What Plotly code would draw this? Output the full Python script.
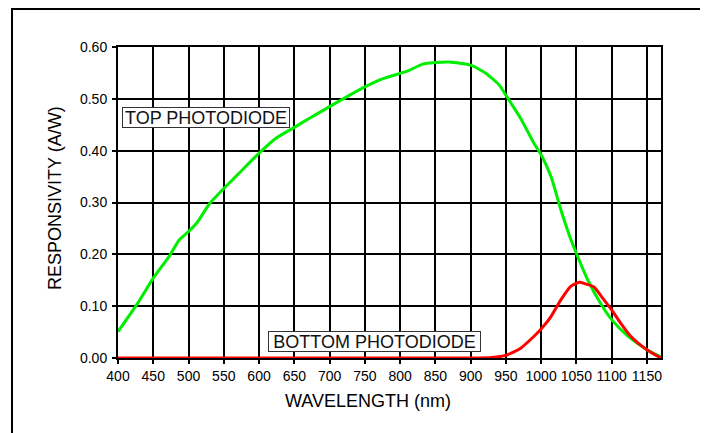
import plotly.graph_objects as go

# ---- data ----
top_wavelength = [400, 428, 450, 473, 487, 500, 512, 530, 550, 567, 600, 624, 650, 671,
                  700, 750, 776, 800, 813, 832, 850, 870, 900, 922, 941, 950, 971, 990,
                  1000, 1014, 1028, 1040, 1050, 1066, 1084, 1100, 1123, 1150, 1170]
top_resp = [0.051, 0.106, 0.154, 0.197, 0.228, 0.244, 0.261, 0.298, 0.327, 0.350, 0.395,
            0.424, 0.445, 0.462, 0.485, 0.523, 0.539, 0.549, 0.555, 0.567, 0.570, 0.571,
            0.565, 0.549, 0.526, 0.507, 0.462, 0.414, 0.392, 0.350, 0.286, 0.237, 0.202,
            0.151, 0.106, 0.074, 0.042, 0.016, 0.002]

bottom_wavelength = [400, 900, 930, 950, 971, 990, 1000, 1014, 1028, 1042, 1054, 1063,
                     1075, 1087, 1100, 1113, 1127, 1150, 1170]
bottom_resp = [0.0, 0.0, 0.001, 0.005, 0.019, 0.042, 0.056, 0.080, 0.112, 0.138, 0.146,
               0.143, 0.137, 0.116, 0.093, 0.067, 0.042, 0.016, 0.0]

x_ticks = [400, 450, 500, 550, 600, 650, 700, 750, 800, 850, 900, 950, 1000, 1050, 1100, 1150]
y_ticks = [0.0, 0.1, 0.2, 0.3, 0.4, 0.5, 0.6]

x_title = "WAVELENGTH (nm)"
y_title = "RESPONSIVITY (A/W)"
top_label = "TOP PHOTODIODE"
bottom_label = "BOTTOM PHOTODIODE"

# ---- layout geometry (page pixels; the page body adds an 8px margin) ----
OFF = 8
W, H = 708 - OFF, 433 - OFF
L, T = 118 - OFF, 47 - OFF
R = W - (661 - OFF)
B = H - (358 - OFF)
PW, PH = W - L - R, H - T - B
FONT = "Liberation Sans, Arial, Helvetica, sans-serif"


def px(x):
    return (x - OFF - L) / PW


def py(y):
    return (H - B - (y - OFF)) / PH


fig = go.Figure()
fig.add_trace(go.Scatter(x=top_wavelength, y=top_resp, mode="lines",
                         line=dict(color="#00ee00", width=3, shape="spline", smoothing=0.6),
                         name=top_label, showlegend=False))
fig.add_trace(go.Scatter(x=bottom_wavelength, y=bottom_resp, mode="lines",
                         line=dict(color="#ff0000", width=3, shape="spline", smoothing=0.6),
                         name=bottom_label, showlegend=False))

axis_common = dict(
    showgrid=True, gridcolor="black", gridwidth=2,
    showline=True, linecolor="black", linewidth=2, mirror=True,
    ticks="outside", ticklen=4, tickwidth=2, tickcolor="black",
    tickfont=dict(family=FONT, size=14, color="black"),
    zeroline=False, layer="below traces",
)

fig.update_xaxes(range=[400, 1170], tickvals=x_ticks,
                 ticktext=[str(v) for v in x_ticks], **axis_common)
fig.update_yaxes(range=[0, 0.6], tickvals=y_ticks,
                 ticktext=[f"{v:.2f}" for v in y_ticks], ticklabelstandoff=2, **axis_common)

annotations = [
    dict(text=x_title, x=px(367.5), y=py(400.5), xref="paper", yref="paper",
         xanchor="center", yanchor="middle", showarrow=False,
         font=dict(family=FONT, size=18, color="black")),
    dict(text=y_title, x=px(55), y=py(198), xref="paper", yref="paper",
         xanchor="center", yanchor="middle", showarrow=False, textangle=-90,
         font=dict(family=FONT, size=18, color="black")),
    dict(text=top_label, x=px(206), y=py(117.8), xref="paper", yref="paper",
         xanchor="center", yanchor="middle", showarrow=False,
         width=166, height=19, bgcolor="white", bordercolor="#333333", borderwidth=1,
         borderpad=0, font=dict(family=FONT, size=18, color="#111111")),
    dict(text=bottom_label, x=px(374), y=py(341), xref="paper", yref="paper",
         xanchor="center", yanchor="middle", showarrow=False,
         width=211, height=19, bgcolor="white", bordercolor="#333333", borderwidth=1,
         borderpad=0, font=dict(family=FONT, size=18, color="#111111")),
]

shapes = [
    dict(type="rect", xref="paper", yref="paper",
         x0=px(12), x1=px(705), y0=py(445), y1=py(OFF + 1),
         line=dict(color="black", width=2), fillcolor="rgba(0,0,0,0)", layer="above"),
]

fig.update_layout(
    width=W, height=H,
    margin=dict(l=L, r=R, t=T, b=B, pad=0),
    paper_bgcolor="white", plot_bgcolor="white",
    font=dict(family=FONT, size=14, color="black"),
    annotations=annotations, shapes=shapes,
    showlegend=False,
)

fig.write_html("out.html")
